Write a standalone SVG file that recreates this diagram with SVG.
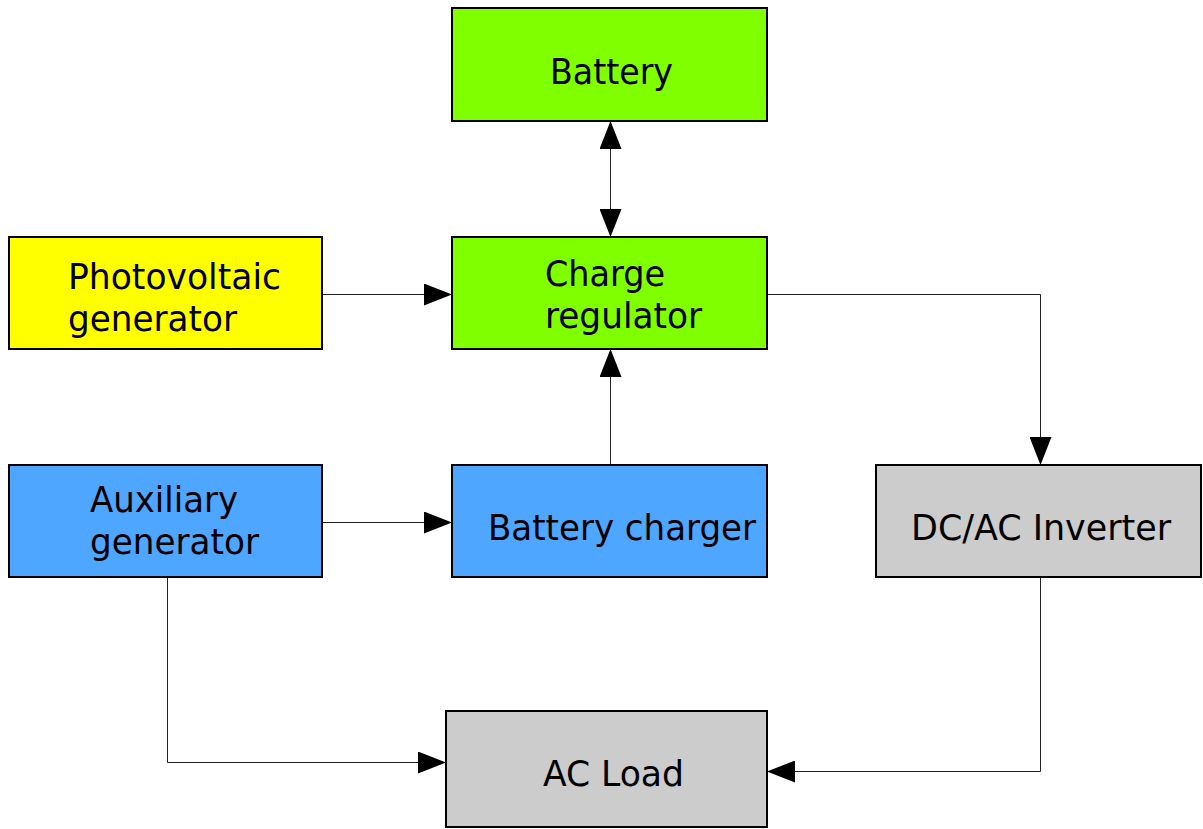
<svg xmlns="http://www.w3.org/2000/svg" width="1203" height="829" viewBox="0 0 1203 829">
<style>
.box{stroke:#000;stroke-width:2}
.t{font-family:"DejaVu Sans Condensed","DejaVu Sans",sans-serif;font-size:35px;fill:#000}
.c{fill:none;stroke:#222;stroke-width:1}
</style>
<defs>
<marker id="ah" markerUnits="userSpaceOnUse" markerWidth="28" markerHeight="22" refX="28" refY="11" orient="auto-start-reverse">
<path d="M0,0 L28,11 L0,22 Z" fill="#000"/>
</marker>
</defs>
<rect width="1203" height="829" fill="#fff"/>
<g id="connectors">
<line class="c" x1="610.5" y1="121" x2="610.5" y2="237" marker-start="url(#ah)" marker-end="url(#ah)"/>
<line class="c" x1="322" y1="294.5" x2="452" y2="294.5" marker-end="url(#ah)"/>
<line class="c" x1="322" y1="522.5" x2="452" y2="522.5" marker-end="url(#ah)"/>
<line class="c" x1="610.5" y1="465" x2="610.5" y2="349" marker-end="url(#ah)"/>
<polyline class="c" points="767,294.5 1040.5,294.5 1040.5,465" marker-end="url(#ah)"/>
<polyline class="c" points="1040.5,577 1040.5,771.5 767,771.5" marker-end="url(#ah)"/>
<polyline class="c" points="167.5,577 167.5,762.5 446,762.5" marker-end="url(#ah)"/>
</g>
<g id="battery">
<rect class="box" x="452" y="8" width="315" height="113" fill="#80ff00"/>
<text class="t" x="550" y="84" textLength="123" lengthAdjust="spacingAndGlyphs">Battery</text>
</g>
<g id="pv">
<rect class="box" x="9" y="237" width="313" height="112" fill="#ffff00"/>
<text class="t" x="68" y="289" textLength="213" lengthAdjust="spacingAndGlyphs">Photovoltaic</text>
<text class="t" x="68" y="331" textLength="169" lengthAdjust="spacingAndGlyphs">generator</text>
</g>
<g id="regulator">
<rect class="box" x="452" y="237" width="315" height="112" fill="#80ff00"/>
<text class="t" x="545" y="286" textLength="120" lengthAdjust="spacingAndGlyphs">Charge</text>
<text class="t" x="545" y="328" textLength="157" lengthAdjust="spacingAndGlyphs">regulator</text>
</g>
<g id="aux">
<rect class="box" x="9" y="465" width="313" height="112" fill="#4fa6ff"/>
<text class="t" x="90" y="512" textLength="148" lengthAdjust="spacingAndGlyphs">Auxiliary</text>
<text class="t" x="90" y="554" textLength="169" lengthAdjust="spacingAndGlyphs">generator</text>
</g>
<g id="charger">
<rect class="box" x="452" y="465" width="315" height="112" fill="#4fa6ff"/>
<text class="t" x="488" y="540" textLength="268" lengthAdjust="spacingAndGlyphs">Battery charger</text>
</g>
<g id="inverter">
<rect class="box" x="876" y="465" width="325" height="112" fill="#cccccc"/>
<text class="t" x="911" y="540" textLength="260" lengthAdjust="spacingAndGlyphs">DC/AC Inverter</text>
</g>
<g id="acload">
<rect class="box" x="446" y="711" width="321" height="116" fill="#cccccc"/>
<text class="t" x="543" y="786" textLength="141" lengthAdjust="spacingAndGlyphs">AC Load</text>
</g>
</svg>
